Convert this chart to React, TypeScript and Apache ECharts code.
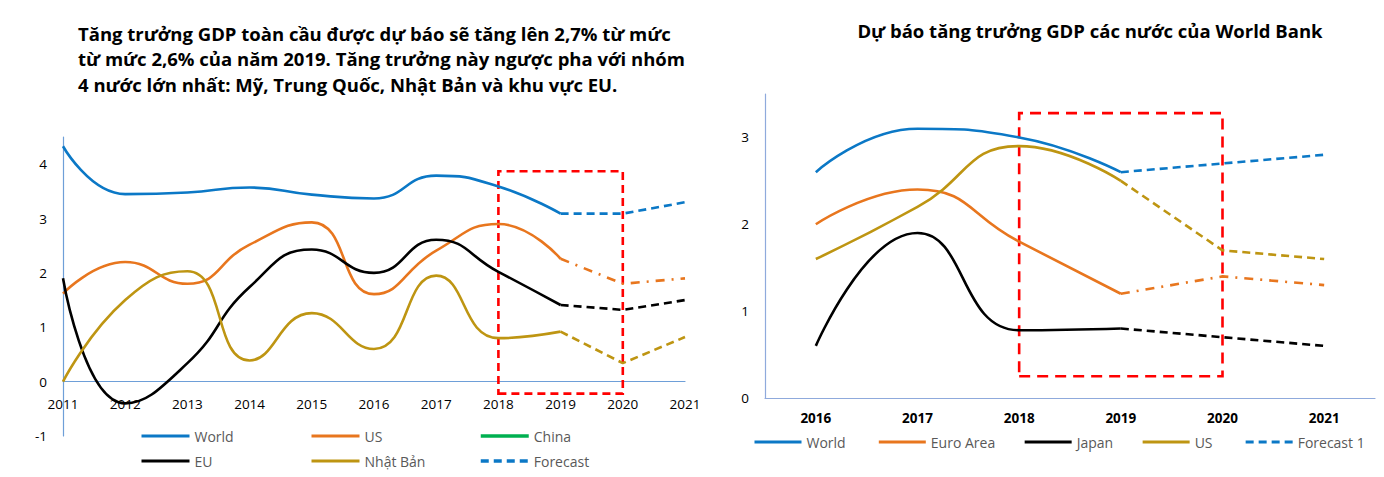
import React, { useEffect, useRef } from "react";
import * as echarts from "echarts";

// ---------- Left chart data ----------
const yearsL = ["2011", "2012", "2013", "2014", "2015", "2016", "2017", "2018", "2019", "2020", "2021"];
const worldL = [4.33, 3.45, 3.48, 3.57, 3.44, 3.37, 3.79, 3.59, 3.09];
const usL = [1.62, 2.2, 1.8, 2.52, 2.93, 1.61, 2.41, 2.9, 2.26];
const euL = [1.9, -0.4, 0.34, 1.74, 2.43, 2.0, 2.61, 2.02, 1.41];
const japanL = [0.0, 1.5, 2.03, 0.39, 1.26, 0.6, 1.95, 0.8, 0.92];
const worldLF = [3.09, 3.09, 3.3];
const usLF = [2.26, 1.8, 1.9];
const euLF = [1.41, 1.32, 1.5];
const japanLF = [0.92, 0.34, 0.82];
const boxL = { from: "2018", to: "2020", low: -0.22, high: 3.87 };
const titleLLines = [
  "Tăng trưởng GDP toàn cầu được dự báo sẽ tăng lên 2,7% từ mức",
  "từ mức 2,6% của năm 2019. Tăng trưởng này ngược pha với nhóm",
  "4 nước lớn nhất: Mỹ, Trung Quốc, Nhật Bản và khu vực EU.",
];

// ---------- Right chart data ----------
const yearsR = ["2016", "2017", "2018", "2019", "2020", "2021"];
const worldR = [2.6, 3.1, 3.0, 2.6];
const euroR = [2.0, 2.4, 1.8, 1.2];
const japanR = [0.6, 1.9, 0.78, 0.8];
const usR = [1.6, 2.2, 2.9, 2.5];
const worldRF = [2.6, 2.7, 2.8];
const euroRF = [1.2, 1.4, 1.3];
const japanRF = [0.8, 0.7, 0.6];
const usRF = [2.5, 1.7, 1.6];
const boxR = { from: "2018", to: "2020", low: 0.25, high: 3.28 };
const titleR = "Dự báo tăng trưởng GDP các nước của World Bank";

const C_BLUE = "#0B78C6";
const C_ORANGE = "#E8761E";
const C_GOLD = "#BE9512";
const C_BLACK = "#000000";
const C_GREEN = "#00B050";
const C_RED = "#FF0000";
const FONT = '"Open Sans", "Noto Sans", sans-serif';

function padEnd(arr: number[], n: number) {
  const out: (number | null)[] = arr.slice();
  while (out.length < n) out.push(null);
  return out;
}
function padStart(arr: number[], n: number) {
  const out: (number | null)[] = [];
  while (out.length + arr.length < n) out.push(null);
  return out.concat(arr);
}

// left grid geometry
const L_TOP = 137;
const L_H = 299;
const L_MIN = -1;
const L_MAX = 4.5;
const L_ZERO_OFFSET = -(L_H * (0 - L_MIN)) / (L_MAX - L_MIN);

export default function App() {
  const ref = useRef<HTMLDivElement>(null);
  useEffect(() => {
    if (!ref.current) return;
    const chart = echarts.init(ref.current, undefined, { renderer: "svg" });
    const nL = yearsL.length;
    const nR = yearsR.length;
    const solid = (name: string, color: string, data: any[], xi: number, w = 2.6) => ({
      name,
      type: "line",
      xAxisIndex: xi,
      yAxisIndex: xi,
      data,
      smooth: 0.5,
      symbol: "none",
      lineStyle: { color, width: w },
      itemStyle: { color },
      z: 3,
    });
    const fc = (name: string, color: string, data: any[], xi: number, type: any) => ({
      name,
      type: "line",
      xAxisIndex: xi,
      yAxisIndex: xi,
      data,
      smooth: false,
      symbol: "none",
      lineStyle: { color, width: 2.6, type },
      itemStyle: { color },
      z: 3,
    });
    const dash = [8, 5];
    const dashDot = [9, 7, 2, 7];

    const legendText = { color: "#595959", fontSize: 14, fontFamily: FONT };
    const legendBase = {
      itemWidth: 48,
      itemHeight: 14,
      padding: 0,
      textStyle: legendText,
      itemStyle: { opacity: 0 },
      selectedMode: false,
    };

    const option: any = {
      animation: false,
      backgroundColor: "#ffffff",
      graphic: [
        ...titleLLines.map((t, i) => ({
          type: "text",
          x: 78,
          y: 33 + i * 25.5,
          style: {
            text: t,
            font: `bold 18.5px ${FONT}`,
            fill: "#000",
            textVerticalAlign: "middle",
          },
        })),
        {
          type: "text",
          x: 1090,
          y: 30,
          style: {
            text: titleR,
            font: `bold 18.5px ${FONT}`,
            fill: "#000",
            textAlign: "center",
            textVerticalAlign: "middle",
          },
        },
      ],
      grid: [
        { left: 63, top: L_TOP, width: 622, height: L_H },
        { left: 765, top: 94, width: 610, height: 304 },
      ],
      xAxis: [
        {
          type: "category",
          gridIndex: 0,
          data: yearsL,
          boundaryGap: false,
          offset: L_ZERO_OFFSET,
          axisLine: { onZero: false, lineStyle: { color: "#6E9FD8", width: 1.2 } },
          axisTick: { show: false },
          axisLabel: { color: "#000", fontSize: 13.5, fontFamily: FONT, margin: 15, interval: 0 },
          splitLine: { show: false },
        },
        {
          type: "category",
          gridIndex: 1,
          data: yearsR,
          boundaryGap: true,
          axisLine: { lineStyle: { color: "#8FAADC", width: 1.2 } },
          axisTick: { show: false },
          axisLabel: { color: "#000", fontSize: 13.5, fontWeight: "bold", fontFamily: FONT, margin: 13, interval: 0 },
          splitLine: { show: false },
        },
      ],
      yAxis: [
        {
          type: "value",
          gridIndex: 0,
          min: L_MIN,
          max: L_MAX,
          interval: 1,
          axisLine: { show: true, lineStyle: { color: "#6E9FD8", width: 1.2 } },
          axisTick: { show: false },
          splitLine: { show: false },
          axisLabel: {
            color: "#000",
            fontSize: 13.5,
            fontFamily: FONT,
            margin: 16,
            formatter: (v: number) => (Number.isInteger(v) ? String(v) : ""),
          },
        },
        {
          type: "value",
          gridIndex: 1,
          min: 0,
          max: 3.5,
          interval: 1,
          axisLine: { show: true, lineStyle: { color: "#8FAADC", width: 1.2 } },
          axisTick: { show: false },
          splitLine: { show: false },
          axisLabel: {
            color: "#000",
            fontSize: 13.5,
            fontFamily: FONT,
            margin: 16,
            formatter: (v: number) => (Number.isInteger(v) ? String(v) : ""),
          },
        },
      ],
      legend: [
        {
          ...legendBase,
          data: ["World", "EU"],
          orient: "vertical",
          left: 140,
          top: 429,
          itemGap: 11,
          lineStyle: { width: 3 },
        },
        {
          ...legendBase,
          data: ["US", "Nhật Bản"],
          orient: "vertical",
          left: 310,
          top: 429,
          itemGap: 11,
          lineStyle: { width: 3 },
        },
        {
          ...legendBase,
          data: ["China", "Forecast"],
          orient: "vertical",
          left: 479,
          top: 429,
          itemGap: 11,
          lineStyle: { width: 3.5 },
        },
        {
          ...legendBase,
          data: ["World ", "Euro Area", "Japan", "US ", "Forecast 1"],
          orient: "horizontal",
          left: 753,
          top: 435,
          itemWidth: 47,
          itemGap: 28,
          lineStyle: { width: 3 },
        },
      ],
      series: [
        // Left chart
        solid("World", C_BLUE, padEnd(worldL, nL), 0),
        solid("US", C_ORANGE, padEnd(usL, nL), 0),
        solid("China", C_GREEN, [], 0, 4),
        solid("EU", C_BLACK, padEnd(euL, nL), 0),
        solid("Nhật Bản", C_GOLD, padEnd(japanL, nL), 0),
        fc("US forecast", C_ORANGE, padStart(usLF, nL), 0, dashDot),
        fc("EU forecast", C_BLACK, padStart(euLF, nL), 0, dash),
        fc("Nhật Bản forecast", C_GOLD, padStart(japanLF, nL), 0, dash),
        {
          ...fc("Forecast", C_BLUE, padStart(worldLF, nL), 0, dash),
          z: 5,
          markArea: {
            silent: true,
            itemStyle: {
              color: "rgba(0,0,0,0)",
              borderColor: C_RED,
              borderWidth: 2.6,
              borderType: [8, 5],
            },
            data: [[{ xAxis: boxL.from, yAxis: boxL.low }, { xAxis: boxL.to, yAxis: boxL.high }]],
          },
        },
        // Right chart
        solid("World ", C_BLUE, padEnd(worldR, nR), 1),
        solid("Euro Area", C_ORANGE, padEnd(euroR, nR), 1),
        solid("Japan", C_BLACK, padEnd(japanR, nR), 1),
        solid("US ", C_GOLD, padEnd(usR, nR), 1),
        fc("Euro Area forecast", C_ORANGE, padStart(euroRF, nR), 1, dashDot),
        fc("Japan forecast", C_BLACK, padStart(japanRF, nR), 1, dash),
        fc("US forecast R", C_GOLD, padStart(usRF, nR), 1, dash),
        {
          ...fc("Forecast 1", C_BLUE, padStart(worldRF, nR), 1, dash),
          z: 5,
          markArea: {
            silent: true,
            itemStyle: {
              color: "rgba(0,0,0,0)",
              borderColor: C_RED,
              borderWidth: 2.6,
              borderType: [11, 7],
            },
            data: [[{ xAxis: boxR.from, yAxis: boxR.low }, { xAxis: boxR.to, yAxis: boxR.high }]],
          },
        },
      ],
    };
    chart.setOption(option);
    return () => chart.dispose();
  }, []);
  return (
    <div
      ref={ref}
      style={{ position: "absolute", left: 0, top: 0, width: 1384, height: 477, background: "#fff" }}
    />
  );
}
